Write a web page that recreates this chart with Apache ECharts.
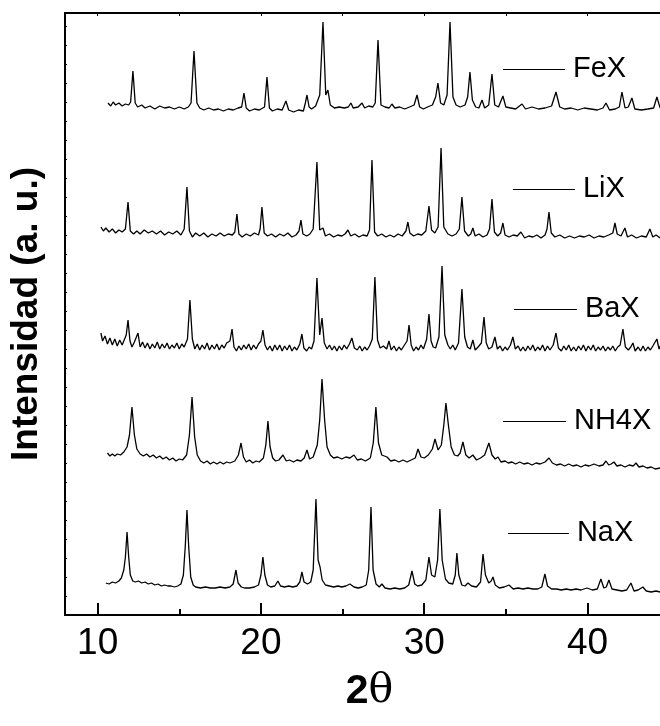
<!DOCTYPE html>
<html>
<head>
<meta charset="utf-8">
<script src="https://cdn.jsdelivr.net/npm/echarts@6/dist/echarts.min.js"></script>
<style>
  html, body { margin: 0; padding: 0; background: #fff; }
  #chart { width: 660px; height: 726px; }
</style>
</head>
<body>
<div id="chart"></div>
<script>
  // 2θ (deg) vs intensity (arbitrary units, stacked traces)
  const xTicks = [10, 20, 30, 40];
  const xMinorTicks = [15, 25, 35];
  const topTicks = [10, 15, 20, 25, 30, 35, 40];

  const feX = [[10.63,512],[10.8,509],[10.95,513],[11.1,510],[11.3,512],[11.5,509],[11.7,511],[11.9,510],[12.02,513],[12.16,544],[12.3,512],[12.45,508],[12.7,510],[12.9,507],[13.2,509],[13.5,506],[13.8,509],[14.1,507],[14.4,508],[14.7,506],[15.0,508],[15.3,506],[15.55,508],[15.72,512],[15.9,564],[16.08,512],[16.25,507],[16.5,505],[16.8,507],[17.1,505],[17.4,506],[17.7,504],[18.0,506],[18.3,505],[18.6,507],[18.82,508],[18.96,522],[19.1,507],[19.3,504],[19.6,506],[19.9,505],[20.22,508],[20.37,538],[20.52,507],[20.7,504],[21.0,506],[21.3,505],[21.53,514],[21.7,505],[22.0,503],[22.3,505],[22.6,504],[22.72,512],[22.82,520],[22.95,508],[23.1,506],[23.35,509],[23.6,520],[23.8,593],[23.97,520],[24.1,525],[24.25,510],[24.5,507],[24.8,508],[25.1,507],[25.35,508],[25.51,512],[25.65,507],[25.95,508],[26.19,512],[26.35,507],[26.6,509],[26.85,508],[27.0,512],[27.17,575],[27.35,510],[27.6,508],[27.85,507],[28.02,511],[28.2,507],[28.5,508],[28.8,506],[29.1,508],[29.38,510],[29.56,520],[29.72,508],[29.95,506],[30.2,508],[30.5,510],[30.7,518],[30.84,532],[31.0,512],[31.2,510],[31.4,520],[31.58,593],[31.76,518],[31.95,510],[32.2,508],[32.5,510],[32.66,518],[32.8,543],[32.95,515],[33.15,508],[33.35,507],[33.54,515],[33.7,507],[33.95,510],[34.15,541],[34.32,510],[34.55,508],[34.82,519],[35.0,508],[35.3,507],[35.6,506],[35.99,511],[36.2,506],[36.6,508],[37.0,506],[37.4,507],[37.8,509],[38.07,523],[38.3,508],[38.6,506],[39.0,507],[39.4,505],[39.8,507],[40.2,506],[40.6,505],[40.95,507],[41.13,512],[41.35,505],[41.7,506],[41.95,508],[42.11,523],[42.3,507],[42.5,508],[42.72,517],[42.9,506],[43.3,505],[43.7,506],[44.05,507],[44.25,518],[44.45,507]];

  const liX = [[10.2,388],[10.35,384],[10.5,387],[10.7,383],[10.9,386],[11.1,382],[11.3,385],[11.5,383],[11.7,386],[11.86,413],[12.0,384],[12.2,381],[12.4,384],[12.6,381],[12.85,385],[13.1,382],[13.35,384],[13.6,381],[13.85,384],[14.1,380],[14.35,383],[14.6,381],[14.85,384],[15.1,380],[15.3,386],[15.47,428],[15.62,384],[15.8,378],[16.0,382],[16.25,379],[16.5,382],[16.75,378],[17.0,381],[17.25,379],[17.5,382],[17.75,379],[18.0,381],[18.25,380],[18.4,383],[18.53,401],[18.65,381],[18.85,378],[19.1,381],[19.35,379],[19.6,382],[19.85,380],[19.95,386],[20.06,408],[20.2,382],[20.4,379],[20.65,381],[20.9,378],[21.15,381],[21.4,379],[21.65,382],[21.9,378],[22.15,380],[22.33,384],[22.45,395],[22.57,381],[22.8,379],[23.0,381],[23.2,386],[23.43,453],[23.6,385],[23.8,387],[23.95,379],[24.2,381],[24.45,378],[24.7,380],[24.95,379],[25.15,381],[25.33,385],[25.5,379],[25.75,381],[26.0,378],[26.25,380],[26.5,379],[26.65,385],[26.8,455],[26.96,383],[27.15,379],[27.4,381],[27.65,378],[27.9,380],[28.15,378],[28.4,381],[28.65,379],[28.88,384],[29.0,393],[29.12,382],[29.35,379],[29.6,381],[29.85,380],[30.1,384],[30.29,409],[30.45,385],[30.65,382],[30.85,388],[31.03,467],[31.2,388],[31.45,381],[31.7,379],[31.95,381],[32.15,386],[32.31,418],[32.47,384],[32.7,379],[32.85,381],[32.98,387],[33.12,379],[33.35,381],[33.6,378],[33.85,380],[34.0,386],[34.15,416],[34.3,383],[34.5,379],[34.68,382],[34.82,392],[34.95,380],[35.2,378],[35.45,380],[35.7,379],[35.92,383],[36.15,377],[36.4,379],[36.65,378],[36.9,380],[37.15,377],[37.4,380],[37.52,386],[37.64,403],[37.78,382],[38.0,378],[38.3,380],[38.6,377],[38.9,379],[39.2,377],[39.5,379],[39.8,378],[40.1,380],[40.4,377],[40.7,379],[41.0,378],[41.3,380],[41.55,382],[41.68,392],[41.82,381],[42.05,379],[42.29,387],[42.45,378],[42.7,380],[43.0,377],[43.3,379],[43.6,378],[43.82,386],[44.0,378],[44.2,380],[44.45,377]];

  const baX = [[10.2,282],[10.3,274],[10.45,279],[10.6,271],[10.75,277],[10.9,270],[11.05,276],[11.2,269],[11.35,275],[11.5,270],[11.65,276],[11.75,280],[11.86,295],[11.98,274],[12.1,268],[12.25,273],[12.35,272],[12.47,282],[12.6,268],[12.75,273],[12.9,267],[13.05,272],[13.2,266],[13.35,271],[13.5,267],[13.65,273],[13.8,266],[13.95,271],[14.1,267],[14.25,272],[14.4,266],[14.55,270],[14.7,267],[14.85,272],[15.0,266],[15.15,271],[15.3,268],[15.5,276],[15.65,315],[15.8,276],[15.95,266],[16.1,271],[16.25,265],[16.4,270],[16.55,266],[16.7,272],[16.85,265],[17.0,270],[17.15,266],[17.3,271],[17.45,265],[17.6,270],[17.75,267],[17.9,272],[18.1,274],[18.23,286],[18.35,268],[18.5,264],[18.65,269],[18.8,265],[18.95,270],[19.1,266],[19.25,271],[19.4,265],[19.55,270],[19.7,266],[19.85,271],[20.0,274],[20.12,285],[20.25,270],[20.4,265],[20.55,269],[20.7,264],[20.85,270],[21.0,265],[21.15,270],[21.3,264],[21.45,269],[21.6,265],[21.75,270],[21.9,264],[22.05,268],[22.2,265],[22.38,271],[22.51,281],[22.63,267],[22.8,264],[22.95,268],[23.1,266],[23.25,274],[23.43,337],[23.6,280],[23.74,297],[23.88,272],[24.05,266],[24.2,270],[24.35,265],[24.5,269],[24.65,264],[24.8,269],[24.95,265],[25.1,270],[25.25,266],[25.42,271],[25.57,277],[25.72,267],[25.9,265],[26.05,269],[26.2,264],[26.35,268],[26.5,265],[26.65,269],[26.82,276],[26.98,338],[27.14,275],[27.3,267],[27.5,269],[27.7,266],[27.84,274],[27.98,265],[28.15,269],[28.3,264],[28.45,268],[28.6,265],[28.75,269],[28.95,274],[29.07,290],[29.2,270],[29.35,264],[29.5,268],[29.65,265],[29.8,270],[29.95,266],[30.15,276],[30.29,301],[30.42,274],[30.55,268],[30.7,267],[30.9,278],[31.09,349],[31.26,280],[31.45,270],[31.6,266],[31.75,270],[31.9,265],[32.1,272],[32.31,326],[32.48,278],[32.65,268],[32.82,266],[32.98,275],[33.12,265],[33.3,268],[33.5,272],[33.66,298],[33.8,272],[33.95,266],[34.15,268],[34.33,278],[34.48,266],[34.65,269],[34.8,264],[34.95,268],[35.1,265],[35.28,270],[35.43,278],[35.58,266],[35.75,269],[35.9,264],[36.05,268],[36.2,264],[36.35,269],[36.5,265],[36.65,270],[36.8,264],[36.95,268],[37.1,265],[37.25,270],[37.4,264],[37.55,269],[37.7,265],[37.9,270],[38.07,282],[38.22,267],[38.4,264],[38.55,269],[38.7,265],[38.85,270],[39.0,264],[39.15,268],[39.3,264],[39.45,269],[39.6,265],[39.75,270],[39.9,264],[40.05,269],[40.2,265],[40.35,270],[40.5,264],[40.65,268],[40.8,265],[40.95,269],[41.1,264],[41.25,268],[41.4,265],[41.55,269],[41.7,264],[41.85,268],[42.0,270],[42.17,286],[42.32,268],[42.5,265],[42.65,268],[42.78,272],[42.92,264],[43.1,268],[43.25,264],[43.4,269],[43.55,264],[43.7,268],[43.85,265],[44.0,269],[44.12,270],[44.25,276],[44.38,266],[44.45,269]];

  const nh4X = [[10.6,162],[10.75,159],[10.9,161],[11.05,159],[11.2,161],[11.4,160],[11.6,163],[11.8,168],[11.95,180],[12.1,208],[12.25,180],[12.4,166],[12.6,161],[12.8,159],[13.0,161],[13.2,158],[13.4,160],[13.6,157],[13.8,159],[14.0,156],[14.2,158],[14.4,155],[14.6,157],[14.8,154],[15.0,156],[15.2,155],[15.45,160],[15.62,180],[15.78,218],[15.94,178],[16.1,160],[16.3,154],[16.5,152],[16.7,154],[16.9,151],[17.1,153],[17.3,151],[17.5,153],[17.7,151],[17.9,153],[18.1,152],[18.4,154],[18.62,160],[18.78,172],[18.93,158],[19.1,153],[19.3,155],[19.5,152],[19.7,154],[19.9,153],[20.15,157],[20.3,170],[20.43,194],[20.56,168],[20.72,157],[20.9,154],[21.1,155],[21.35,160],[21.55,154],[21.75,155],[22.0,153],[22.2,155],[22.45,154],[22.65,157],[22.82,165],[22.98,156],[23.2,158],[23.45,170],[23.6,195],[23.74,236],[23.9,195],[24.05,168],[24.25,160],[24.45,157],[24.7,158],[24.95,156],[25.2,158],[25.45,157],[25.7,160],[25.9,155],[26.15,156],[26.4,154],[26.7,157],[26.88,172],[27.04,208],[27.2,172],[27.4,160],[27.72,158],[27.95,154],[28.2,155],[28.45,153],[28.7,155],[28.95,153],[29.2,155],[29.45,157],[29.62,166],[29.8,158],[30.0,157],[30.25,160],[30.5,166],[30.66,176],[30.85,165],[31.05,170],[31.2,190],[31.33,212],[31.48,190],[31.65,168],[31.85,160],[32.05,159],[32.2,162],[32.37,173],[32.55,160],[32.75,157],[32.98,160],[33.2,155],[33.45,157],[33.7,160],[33.96,172],[34.15,160],[34.35,156],[34.52,158],[34.7,153],[34.95,154],[35.15,152],[35.37,153],[35.6,151],[35.85,153],[36.1,151],[36.35,152],[36.6,150],[36.85,152],[37.1,151],[37.4,153],[37.64,157],[37.85,152],[38.1,150],[38.35,151],[38.6,149],[38.85,151],[39.1,149],[39.35,150],[39.6,148],[39.85,150],[40.1,149],[40.4,151],[40.7,149],[40.95,150],[41.13,154],[41.3,150],[41.45,151],[41.62,153],[41.8,149],[42.05,150],[42.3,148],[42.55,150],[42.8,149],[42.97,152],[43.15,148],[43.4,149],[43.65,147],[43.9,148],[44.15,146],[44.45,147]];

  const naX = [[10.5,32],[10.7,31],[10.9,33],[11.1,32],[11.3,34],[11.45,37],[11.6,45],[11.7,58],[11.8,83],[11.9,58],[12.0,40],[12.15,34],[12.3,33],[12.5,34],[12.7,32],[12.9,33],[13.1,31],[13.3,32],[13.5,30],[13.7,31],[13.9,29],[14.1,30],[14.3,29],[14.5,29],[14.7,28],[14.9,29],[15.1,31],[15.25,40],[15.37,70],[15.47,105],[15.57,70],[15.7,38],[15.85,30],[16.0,28],[16.3,27],[16.6,28],[16.9,27],[17.2,27],[17.5,28],[17.8,27],[18.1,28],[18.3,31],[18.47,45],[18.6,32],[18.8,28],[19.0,27],[19.3,27],[19.6,28],[19.85,30],[20.0,40],[20.12,58],[20.24,40],[20.4,30],[20.6,28],[20.85,29],[21.04,34],[21.2,29],[21.45,28],[21.7,29],[21.95,28],[22.2,29],[22.38,33],[22.51,43],[22.64,33],[22.85,31],[23.05,33],[23.2,45],[23.37,116],[23.5,55],[23.62,48],[23.75,35],[23.95,30],[24.2,29],[24.45,28],[24.72,29],[24.95,28],[25.2,29],[25.45,31],[25.7,28],[25.95,27],[26.2,28],[26.45,30],[26.6,45],[26.74,108],[26.87,45],[27.05,31],[27.25,28],[27.41,31],[27.6,27],[27.9,26],[28.2,27],[28.5,26],[28.8,27],[29.05,30],[29.25,44],[29.42,31],[29.6,29],[29.85,30],[30.1,35],[30.29,58],[30.45,40],[30.65,38],[30.82,55],[30.96,106],[31.1,55],[31.3,36],[31.5,32],[31.75,31],[31.9,40],[32.0,62],[32.12,40],[32.3,30],[32.5,29],[32.68,32],[32.9,29],[33.2,28],[33.45,33],[33.6,61],[33.75,40],[33.95,32],[34.1,34],[34.21,38],[34.35,30],[34.6,27],[34.9,28],[35.19,30],[35.45,26],[35.75,27],[36.05,26],[36.35,27],[36.65,26],[36.95,26],[37.2,28],[37.39,41],[37.55,29],[37.8,26],[38.1,26],[38.4,25],[38.7,26],[39.0,25],[39.3,26],[39.6,25],[39.97,27],[40.3,25],[40.6,26],[40.82,36],[41.0,27],[41.15,28],[41.31,35],[41.5,26],[41.8,25],[42.1,24],[42.4,25],[42.66,32],[42.85,24],[43.1,25],[43.39,28],[43.6,24],[43.9,23],[44.2,24],[44.45,23]];

  // label leader lines: [x start, x end, y]
  const feXTag = [34.82, 38.62, 546];
  const liXTag = [35.43, 39.23, 426];
  const baXTag = [35.50, 39.35, 306];
  const nh4XTag = [34.82, 38.68, 194];
  const naXTag = [35.13, 38.86, 82];

  const font = "'Liberation Sans', Arial, Helvetica, sans-serif";

  function trace(name, data, tag) {
    return {
      name: name,
      type: "line",
      data: data,
      xAxisIndex: 0,
      yAxisIndex: 0,
      showSymbol: false,
      symbol: "none",
      silent: true,
      lineStyle: { color: "#000", width: 1.3 },
      markLine: {
        silent: true,
        symbol: ["none", "none"],
        lineStyle: { color: "#000", width: 1, type: "solid" },
        label: {
          show: true,
          position: "end",
          formatter: name,
          color: "#000",
          fontFamily: font,
          fontSize: 29,
          distance: 8
        },
        data: [[{ coord: [tag[0], tag[2]] }, { coord: [tag[1], tag[2]] }]]
      }
    };
  }

  const chart = echarts.init(document.getElementById("chart"));
  chart.setOption({
    animation: false,
    backgroundColor: "#fff",
    grid: { left: 65, right: 0, top: 13, bottom: 111 },
    xAxis: [
      {
        type: "value",
        min: 8,
        max: 44.44,
        position: "bottom",
        axisLine: { lineStyle: { color: "#000", width: 2 } },
        axisTick: { inside: true, length: 12, customValues: xTicks, lineStyle: { color: "#000", width: 2 } },
        axisLabel: { customValues: xTicks, color: "#000", fontSize: 37, fontFamily: font, margin: 10 },
        splitLine: { show: false },
        name: "{b|2}{t|θ}",
        nameLocation: "middle",
        nameGap: 56,
        nameTextStyle: {
          padding: [0, 0, 0, 14],
          rich: {
            b: { fontSize: 41, fontWeight: "bold", fontFamily: font, color: "#000" },
            t: { fontSize: 41, fontFamily: "'DejaVu Serif', serif", color: "#000" }
          }
        }
      },
      {
        type: "value",
        min: 8,
        max: 44.44,
        position: "bottom",
        axisLine: { show: false },
        axisTick: { inside: true, length: 6, customValues: xMinorTicks, lineStyle: { color: "#000", width: 2 } },
        axisLabel: { show: false },
        splitLine: { show: false }
      },
      {
        type: "value",
        min: 8,
        max: 44.44,
        position: "top",
        axisLine: { lineStyle: { color: "#000", width: 2 } },
        axisTick: { inside: true, length: 3, customValues: topTicks, lineStyle: { color: "#000", width: 1 } },
        axisLabel: { show: false },
        splitLine: { show: false }
      }
    ],
    yAxis: [
      {
        type: "value",
        min: 0,
        max: 602,
        interval: 19,
        axisLine: { show: true, lineStyle: { color: "#000", width: 2 } },
        axisTick: { show: true, inside: true, length: 2, lineStyle: { color: "#000", width: 1 } },
        axisLabel: { show: false },
        splitLine: { show: false },
        name: "Intensidad (a. u.)",
        nameLocation: "middle",
        nameRotate: 90,
        nameGap: 20,
        nameTextStyle: { color: "#000", fontSize: 37, fontWeight: "bold", fontFamily: font }
      }
    ],
    series: [
      trace("FeX", feX, feXTag),
      trace("LiX", liX, liXTag),
      trace("BaX", baX, baXTag),
      trace("NH4X", nh4X, nh4XTag),
      trace("NaX", naX, naXTag)
    ]
  });
</script>
</body>
</html>
